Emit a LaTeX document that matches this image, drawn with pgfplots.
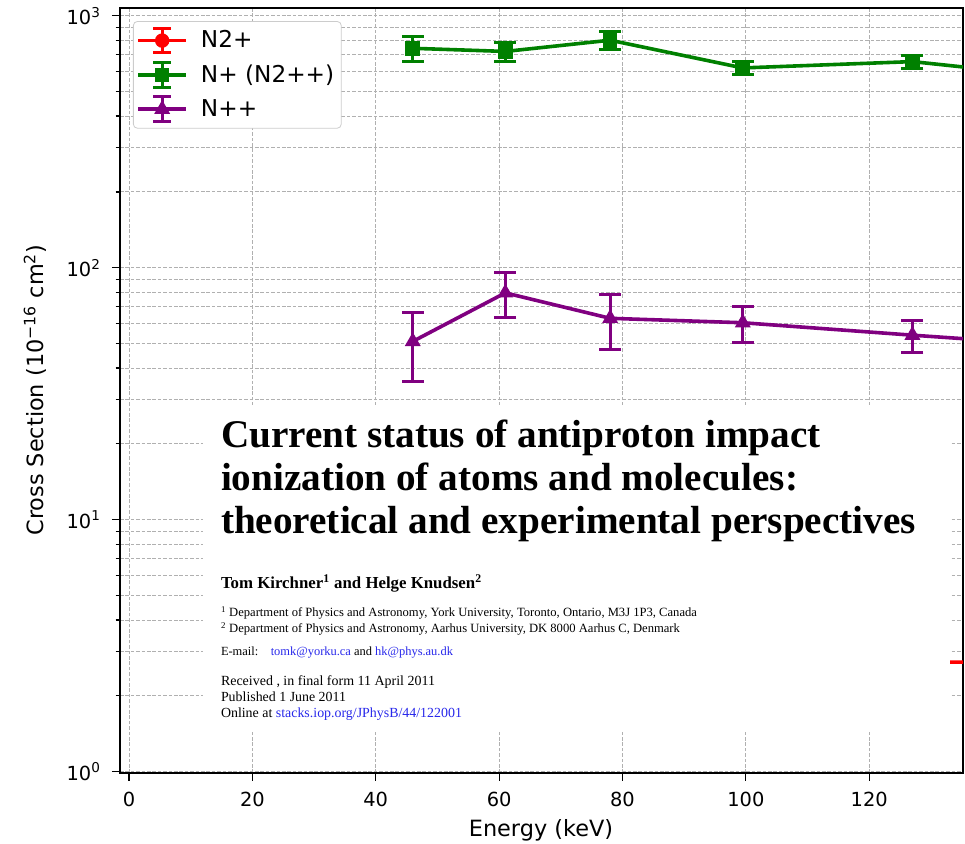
\documentclass[border=0pt]{standalone}
\usepackage{pgfplots}
\pgfplotsset{compat=1.18}
\usepackage{fontspec}
\setmainfont{DejaVu Sans}
\newfontfamily\tnr{Liberation Serif}
\definecolor{mplgreen}{RGB}{0,128,0}
\definecolor{mplpurple}{RGB}{128,0,128}
\definecolor{mplred}{RGB}{255,0,0}
\definecolor{linkblue}{RGB}{40,40,235}
\definecolor{gridgray}{RGB}{176,176,176}
\begin{document}
\begin{tikzpicture}
\path[use as bounding box] (0,0) rectangle (482.5pt,422pt);
\begin{axis}[
  at={(60pt,35.5pt)}, anchor=south west,
  scale only axis, width=421.5pt, height=382.3pt,
  ymode=log, xmin=-1.46, xmax=135.2, ymin=0.988, ymax=1070,
  /pgf/number format/assume math mode=true,
  xtick={0,20,40,60,80,100,120},
  ytick={1,10,100,1000},
  yticklabels={10\textsuperscript{0},10\textsuperscript{1},10\textsuperscript{2},10\textsuperscript{3}},
  minor ytick={2,3,4,5,6,7,8,9,20,30,40,50,60,70,80,90,200,300,400,500,600,700,800,900},
  grid=both,
  major grid style={gridgray, line width=0.45pt, dash pattern=on 1.8pt off 0.9pt},
  minor grid style={gridgray, line width=0.45pt, dash pattern=on 1.8pt off 0.9pt},
  tick pos=left, tick align=outside,
  major tick length=4pt, minor tick length=2.2pt,
  every tick/.style={black, line width=0.6pt},
  axis line style={line width=0.9pt},
  ticklabel style={font=\fontsize{9.7}{11}\selectfont},
  xticklabel style={yshift=-2pt},
  yticklabel style={xshift=-2pt},
  every axis x label/.style={at={(axis description cs:0.4994,-0.0745)}, anchor=center},
  every axis y label/.style={at={(axis description cs:-0.1008,0.5009)}, rotate=90, anchor=center},
  label style={font=\fontsize{11.2}{13}\selectfont},
  xlabel={Energy (keV)},
  ylabel={Cross Section (10\textsuperscript{−16} cm\textsuperscript{2})},
  error bars/y dir=both, error bars/y explicit,
  error bars/error bar style={line width=1.5pt},
  error bars/error mark options={line width=1.5pt, mark size=5.5pt, rotate=90},
  legend image code/.code={
    \draw[#1, mark=none, line width=1.5pt] (12pt,-6.2pt) -- (12pt,6.2pt);
    \draw[#1, mark=none, line width=1.5pt] (7.5pt,-6.2pt) -- (16.5pt,-6.2pt);
    \draw[#1, mark=none, line width=1.5pt] (7.5pt,6.2pt) -- (16.5pt,6.2pt);
    \draw[mark repeat=2, mark phase=2, #1] plot coordinates {(0pt,0pt) (12pt,0pt) (24pt,0pt)};
  },
  legend style={at={(axis description cs:0.0154,0.9834)}, anchor=north west,
    draw=black!20, fill=white, rounded corners=2pt,
    font=\fontsize{11.6}{13.5}\selectfont, inner xsep=1.5pt, inner ysep=2.5pt,
    row sep=3pt, nodes={inner sep=2pt},
    /tikz/every odd column/.append style={column sep=4.5pt}},
  legend cell align=left,
]
\addplot+[mplred, line width=1.8pt, solid, mark=*, mark size=3.2pt, mark options={solid, fill=mplred, line width=0.8pt}]
  coordinates {(46,2.6) +- (0,0.2) (61,2.9) +- (0,0.2) (78,2.8) +- (0,0.2) (99.5,2.7) +- (0,0.2) (127,2.72) +- (0,0.2) (160,2.72) +- (0,0.2)};
\addplot+[mplgreen, line width=1.8pt, solid, mark=square*, mark size=3.25pt, mark options={solid, fill=mplgreen, line width=0.8pt}]
  coordinates {(46,743) +- (0,83) (61,722) +- (0,64) (78,800) +- (0,65) (99.5,621) +- (0,35) (127,658) +- (0,40) (160,540) +- (0,35)};
\addplot+[mplpurple, line width=1.8pt, solid, mark=triangle*, mark size=3.8pt, mark options={solid, fill=mplpurple, line width=0.8pt}]
  coordinates {(46,51) +- (0,15.7) (61,79.5) +- (0,16) (78,63) +- (0,15.5) (99.5,60.5) +- (0,10) (127,54) +- (0,8) (160,47.5) +- (0,6)};
\legend{N2+, N+ (N2++), N++}
\end{axis}
% overlay of the paper title page
\fill[white] (101.5pt,57pt) rectangle (475pt,219.5pt);
\begin{scope}[every node/.style={anchor=base west, inner sep=0pt, outer sep=0pt}]
\node at (110.5pt,198pt) {\tnr\bfseries\fontsize{19.6}{21.5}\selectfont Current status of antiproton impact};
\node at (110.5pt,176.5pt) {\tnr\bfseries\fontsize{19.6}{21.5}\selectfont ionization of atoms and molecules:};
\node at (110.5pt,155pt) {\tnr\bfseries\fontsize{19.6}{21.5}\selectfont theoretical and experimental perspectives};
\node at (110.5pt,127.5pt) {\resizebox{130.5pt}{!}{\tnr\bfseries Tom Kirchner\textsuperscript{1} and Helge Knudsen\textsuperscript{2}}};
\node at (110.5pt,113.5pt) {\resizebox{238pt}{!}{\tnr \textsuperscript{1} Department of Physics and Astronomy, York University, Toronto, Ontario, M3J 1P3, Canada}};
\node at (110.5pt,105.5pt) {\resizebox{229.5pt}{!}{\tnr \textsuperscript{2} Department of Physics and Astronomy, Aarhus University, DK 8000 Aarhus C, Denmark}};
\node at (110.5pt,94.25pt) {\resizebox{116pt}{!}{\tnr E-mail:\quad\textcolor{linkblue}{tomk@yorku.ca} and \textcolor{linkblue}{hk@phys.au.dk}}};
\node at (110.5pt,79pt) {\resizebox{107pt}{!}{\tnr Received , in final form 11 April 2011}};
\node at (110.5pt,71pt) {\resizebox{62.5pt}{!}{\tnr Published 1 June 2011}};
\node at (110.5pt,63pt) {\resizebox{120.5pt}{!}{\tnr Online at \textcolor{linkblue}{stacks.iop.org/JPhysB/44/122001}}};
\end{scope}
\end{tikzpicture}
\end{document}
